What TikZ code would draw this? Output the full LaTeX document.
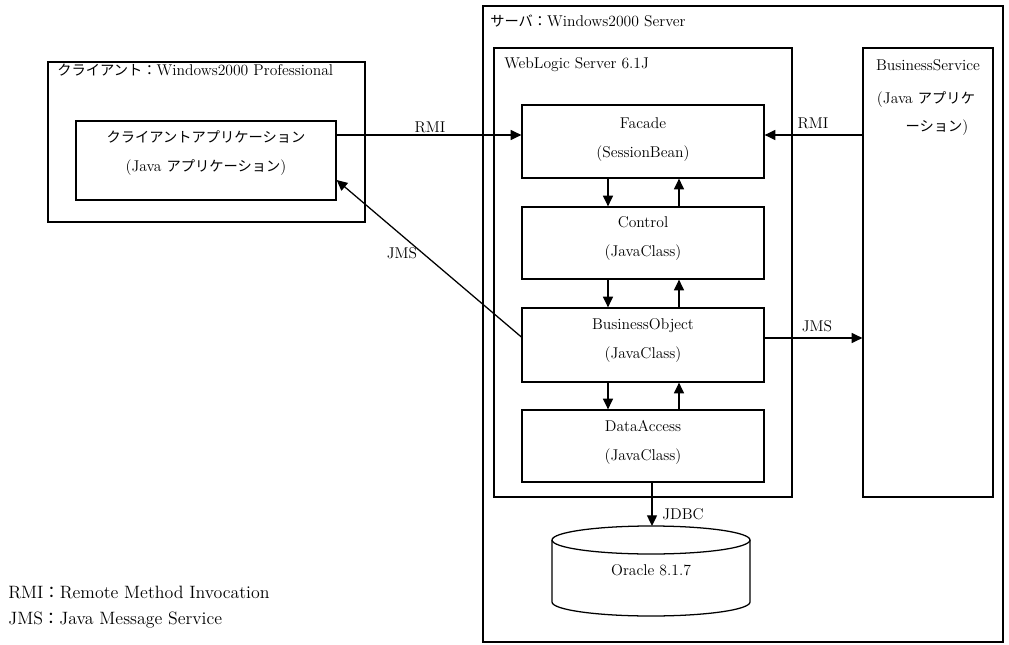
\documentclass[tikz,border=0pt]{standalone}
\usepackage{fontspec}
\newfontfamily\jp[Scale=0.915]{Noto Sans CJK JP}
\usetikzlibrary{arrows.meta}
\tikzset{
  box/.style={draw, line width=0.95pt, inner sep=0pt, rectangle},
  txt/.style={font=\fontsize{11.7pt}{14pt}\selectfont, inner sep=0pt, align=center},
  ltxt/.style={txt, anchor=west},
  legtxt/.style={font=\fontsize{13.4pt}{16pt}\selectfont, inner sep=0pt, anchor=west},
  arr/.style={line width=0.95pt, -{Triangle[length=8pt,width=7.5pt]}},
}
\begin{document}
\begin{tikzpicture}[x=0.75pt,y=-0.75pt]
\useasboundingbox (0,0) rectangle (1009,645);
% containers
\node[box, minimum width=237.75pt, minimum height=120pt] (client) at (206.5,142) {};
\node[box, minimum width=390pt, minimum height=477pt] (server) at (743,324) {};
\node[box, minimum width=223.5pt, minimum height=336.75pt] (wls) at (643,272.5) {};
\node[box, minimum width=97.5pt, minimum height=336.75pt] (bs) at (928,272.5) {};
\node[ltxt] (clientl) at (57,70) {{\jp クライアント：}Windows2000 Professional};
\node[ltxt] (serverl) at (490,21) {{\jp サーバ：}Windows2000 Server};
\node[ltxt] (wlsl) at (504,65) {WebLogic Server 6.1J};
\node[txt] (bsl1) at (928,65) {BusinessService};
\node[txt] (bsl2) at (926,100) {(Java {\jp アプリケ}};
\node[txt] (bsl3) at (937,128) {{\jp ーション})};
% boxes
\node[box, minimum width=195pt, minimum height=59.25pt] (capp) at (206,160.5) {};
\node[txt] (cappt) at (206,153) {{\jp クライアントアプリケーション}\\[7.75pt](Java {\jp アプリケーション})};
\node[box, minimum width=181.5pt, minimum height=54.75pt] (facade) at (643,141.5) {};
\node[txt] (facadet) at (643,140) {Facade\\[7.75pt](SessionBean)};
\node[box, minimum width=181.5pt, minimum height=54pt] (control) at (643,243) {};
\node[txt] (controlt) at (643,238) {Control\\[7.75pt](JavaClass)};
\node[box, minimum width=181.5pt, minimum height=55.5pt] (bo) at (643,345) {};
\node[txt] (bot) at (643,340) {BusinessObject\\[7.75pt](JavaClass)};
\node[box, minimum width=181.5pt, minimum height=54pt] (da) at (643,446) {};
\node[txt] (dat) at (643,442) {DataAccess\\[7.75pt](JavaClass)};
% database cylinder
\draw[line width=0.95pt] (651,540) ellipse [x radius=74.25pt, y radius=10.5pt];
\draw[line width=0.95pt] (552,540) -- (552,602) arc[start angle=180, end angle=360, x radius=74.25pt, y radius=10.5pt] -- (750,540);
\node[txt] (db) at (651,570) {Oracle 8.1.7};
\coordinate (dbtop) at (652,526);
% helper coordinates
\coordinate (dl) at (608,0);
\coordinate (ul) at (679,0);
\coordinate (rmiy) at (0,135);
\coordinate (jmsy) at (0,338);
\coordinate (jmsa) at (0,337);
\coordinate (jmsb) at (0,180);
% vertical arrows
\draw[arr] (facade.south -| dl) -- (control.north -| dl);
\draw[arr] (control.north -| ul) -- (facade.south -| ul);
\draw[arr] (control.south -| dl) -- (bo.north -| dl);
\draw[arr] (bo.north -| ul) -- (control.south -| ul);
\draw[arr] (bo.south -| dl) -- (da.north -| dl);
\draw[arr] (da.north -| ul) -- (bo.south -| ul);
\draw[arr] (da.south -| dbtop) -- (dbtop);
\node[ltxt] (jdbc) at (662,514) {JDBC};
% RMI
\draw[arr] (capp.east |- rmiy) -- (facade.west |- rmiy);
\node[txt] (rmi1) at (430,127) {RMI};
\draw[arr] (bs.west |- rmiy) -- (facade.east |- rmiy);
\node[txt] (rmi2) at (813,123) {RMI};
% JMS
\draw[arr] (bo.west |- jmsa) -- (capp.east |- jmsb);
\node[txt] (jms1) at (402,253) {JMS};
\draw[arr] (bo.east |- jmsy) -- (bs.west |- jmsy);
\node[txt] (jms2) at (817,326) {JMS};
% legend
\node[legtxt] (leg1) at (8,592) {RMI{\jp ：}Remote Method Invocation};
\node[legtxt] (leg2) at (8,620) {JMS{\jp ：}Java Message Service};
\end{tikzpicture}
\end{document}
